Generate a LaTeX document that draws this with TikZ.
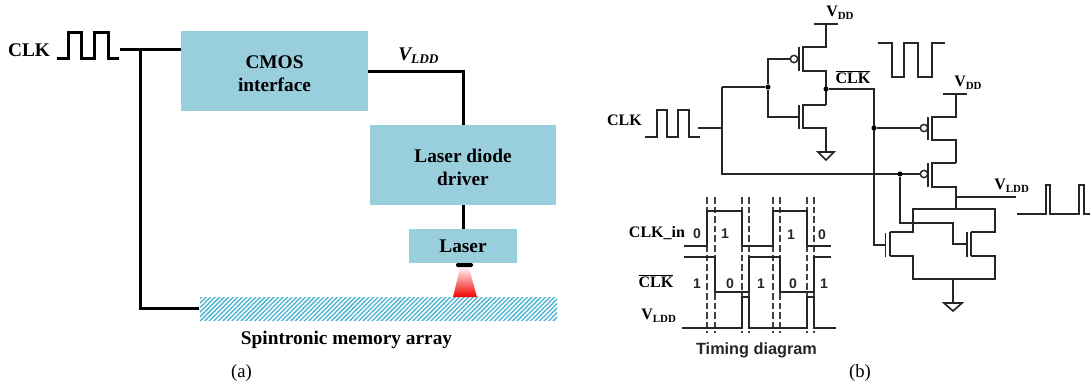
\documentclass[tikz,border=0pt]{standalone}
\usepackage{fontspec}
\setmainfont{Liberation Serif}
\setsansfont{Liberation Sans}
\usetikzlibrary{patterns.meta}
\definecolor{blockblue}{HTML}{99CEDC}
\definecolor{hatchblue}{HTML}{52B6D2}
\newcommand{\sizeA}{\fontsize{14.5}{17.25}\selectfont\bfseries}
\newcommand{\sizeB}{\fontsize{12}{14}\selectfont\bfseries}
\newcommand{\subB}[1]{\raisebox{-2.2pt}{\fontsize{8.2}{9}\selectfont #1}}
\newcommand{\barclk}{$\overline{\mbox{\sizeB CLK}}$}
\newcommand{\topstrut}{\rule{0pt}{13pt}}
\tikzset{
  block/.style={fill=blockblue,inner sep=0pt,font=\sizeA,align=center},
  thickwire/.style={line width=2.25pt,black,line join=miter},
  wire/.style={line width=1.25pt,black!85,line join=miter},
  gatebar/.style={line width=1.4pt,black!85},
  wave/.style={line width=1.4pt,black!85,line join=miter},
  dashline/.style={line width=.8pt,black!75,dash pattern=on 5pt off 2.2pt},
  bigtext/.style={inner sep=0pt,font=\sizeA},
  smalltext/.style={inner sep=0pt,font=\sizeB},
  bitlabel/.style={inner sep=0pt,font=\sffamily\fontsize{10.5}{12}\selectfont\bfseries,black!85},
  caption/.style={inner sep=0pt,font=\fontsize{14}{16}\selectfont},
  junction/.style={circle,fill=black,inner sep=0pt,minimum size=3.8pt},
  bubble/.style={circle,draw=black!85,line width=1.1pt,fill=white,inner sep=0pt,minimum size=5.5pt},
  ground/.style={draw=black!85,line width=1.25pt,fill=white,line join=miter}
}
\begin{document}
\begin{tikzpicture}[x=.75pt,y=-.75pt]
\useasboundingbox (0,0) rectangle (1090,390);
% ---------- (a) ----------
\node[block,minimum width=140.25pt,minimum height=60pt] (cmos) at (274.5,71) {\topstrut CMOS\\interface};
\node[block,minimum width=139.5pt,minimum height=60pt] (driver) at (463,165) {\topstrut Laser diode\\driver};
\node[block,minimum width=81pt,minimum height=25.5pt] (laser) at (463,246) {Laser};
\node[bigtext] (clka) at (29,50) {CLK};
\node[bigtext,anchor=west] (vldda) at (398,56) {\itshape V\raisebox{-2.4pt}{\fontsize{10}{11}\selectfont LDD}};
\node[bigtext] (spinlabel) at (346.5,339.5) {Spintronic memory array};
\node[caption] (capa) at (241.5,373) {(a)};
\node[minimum width=267.75pt,minimum height=17.25pt,inner sep=0pt,pattern={Lines[angle=45,distance=2.4pt,line width=1.1pt]},pattern color=hatchblue] (mem) at (378.5,308.5) {};
\coordinate (ina) at (120,49);
\coordinate (tee) at (140,49);
\coordinate (inb) at (181,49);
\coordinate (outa) at (368,71);
\draw[thickwire] (57,58) -- (68,58) -- (68,32) -- (81,32) -- (81,58) -- (94,58) -- (94,32) -- (108,32) -- (108,58) -- (119,58);
\draw[thickwire] (ina) -- (inb);
\draw[thickwire] (tee) |- (mem.west);
\draw[thickwire] (outa) -| (driver.north);
\draw[thickwire] (driver.south) -- (laser.north);
\fill[black,rounded corners=1pt] (456,263) rectangle (473,267);
\shade[top color=red!5!white,middle color=red!30!white,bottom color=red!95!black] (460,268) -- (469,268) -- (477,297) -- (453,297) -- cycle;
% ---------- (b) inverter ----------
\node[smalltext] (clkb) at (624.5,120) {CLK};
\draw[wave] (645,137) -- (657,137) -- (657,110) -- (667,110) -- (667,137) -- (678,137) -- (678,110) -- (689,110) -- (689,137) -- (700,137);
\coordinate (inw) at (698,128);
\coordinate (bus) at (722,128);
\draw[wire] (inw) -- (bus);
\draw[wire] (722,87) -- (722,174) -- (920,174);
\node[junction] (j1) at (768,87) {};
\draw[wire] (722,87) -- (j1);
\node[bubble] (b1) at (794,59) {};
\draw[wire] (j1) |- (b1.west);
\draw[wire] (j1) |- (799,117);
\draw[gatebar] (799,47) -- (799,71);
\draw[gatebar] (799,105) -- (799,129);
\draw[wire] (814,24) -- (838,24);
\draw[wire] (826,24) |- (803,47) -- (803,71) -| (826,105);
\draw[wire] (826,105) -- (803,105) -- (803,128) -| (826,152);
\draw[ground] (818,152) -- (834,152) -- (826,160) -- cycle;
\node[junction] (j2) at (826,89) {};
\draw[wire] (j2) -- (874,89) -- (874,245) -- (885,245);
\node[smalltext,anchor=west] (vdd1) at (826,13) {V\subB{DD}};
\node[smalltext] (clkbar) at (853,77) {\barclk};
\draw[wave] (878,43) -- (892,43) -- (892,77) -- (904,77) -- (904,43) -- (918,43) -- (918,77) -- (932,77) -- (932,43) -- (945,43);
% ---------- (b) driver ----------
\node[junction] (j3) at (874,128) {};
\node[bubble] (b2) at (924,128) {};
\node[bubble] (b3) at (924,174) {};
\node[junction] (j4) at (900,174) {};
\draw[wire] (j3) -- (b2.west);
\draw[wire] (j4) -- (b3.west);
\draw[gatebar] (928,117) -- (928,140);
\draw[gatebar] (928,163) -- (928,187);
\draw[wire] (943,94) -- (967,94);
\draw[wire] (956,94) |- (932,117) -- (932,140) -| (956,163);
\draw[wire] (956,163) -- (932,163) -- (932,187) -| (956,209);
\draw[wire] (956,197) -- (1016,197);
\node[smalltext,anchor=west] (vdd2) at (954,83) {V\subB{DD}};
\node[smalltext,anchor=west] (vldd2) at (994,186) {V\subB{LDD}};
\draw[wave] (1017,214) -- (1046,214) -- (1046,185) -- (1050,185) -- (1050,214) -- (1079,214) -- (1079,185) -- (1084,185) -- (1084,214) -- (1090,214);
\draw[wire] (j4) -- (900,223) -- (953,223) -- (953,244) -- (967,244);
\draw[gatebar] (885.5,233) -- (885.5,257);
\draw[gatebar] (967,232) -- (967,257);
\draw[wire] (890,232) -- (890,256);
\draw[wire] (971,232) -- (971,256);
\draw[wire] (890,232) -- (913,232) -- (913,209) -- (995,209) -- (995,232) -- (971,232);
\draw[wire] (890,256) -- (913,256) -- (913,279) -- (995,279) -- (995,256) -- (971,256);
\draw[wire] (953,279) -- (953,303);
\draw[ground] (944,303) -- (962,303) -- (953,311) -- cycle;
% ---------- (b) timing ----------
\foreach \x in {707,715,742,749,773,780,807,814} \draw[dashline] (\x,197) -- (\x,333);
\draw[wave] (684,246) -- (707,246) -- (707,211) -- (742,211) -- (742,246) -- (773,246) -- (773,211) -- (807,211) -- (807,246) -- (831,246);
\draw[wave] (684,257) -- (715,257) -- (715,292) -- (749,292) -- (749,257) -- (780,257) -- (780,292) -- (814,292) -- (814,257) -- (831,257);
\draw[wave] (682,328) -- (742,328) -- (742,297) -- (749,297) -- (749,328) -- (807,328) -- (807,297) -- (814,297) -- (814,328) -- (836,328);
\node[smalltext] (clkin) at (657,233) {CLK\_in};
\node[smalltext] (clkbar2) at (656,281) {\barclk};
\node[smalltext,anchor=west] (vldd3) at (641,316) {V\subB{LDD}};
\node[bitlabel] (b11) at (697,234) {0};
\node[bitlabel] (b12) at (725,234) {1};
\node[bitlabel] (b13) at (791,235) {1};
\node[bitlabel] (b14) at (822,235) {0};
\node[bitlabel] (b21) at (697,284) {1};
\node[bitlabel] (b22) at (730,284) {0};
\node[bitlabel] (b23) at (761,284) {1};
\node[bitlabel] (b24) at (793,284) {0};
\node[bitlabel] (b25) at (824,284) {1};
\node[inner sep=0pt,font=\sffamily\fontsize{12.2}{14}\selectfont\bfseries,black!85] (timing) at (756.5,350) {Timing diagram};
\node[caption] (capb) at (860,373) {(b)};
\end{tikzpicture}
\end{document}
